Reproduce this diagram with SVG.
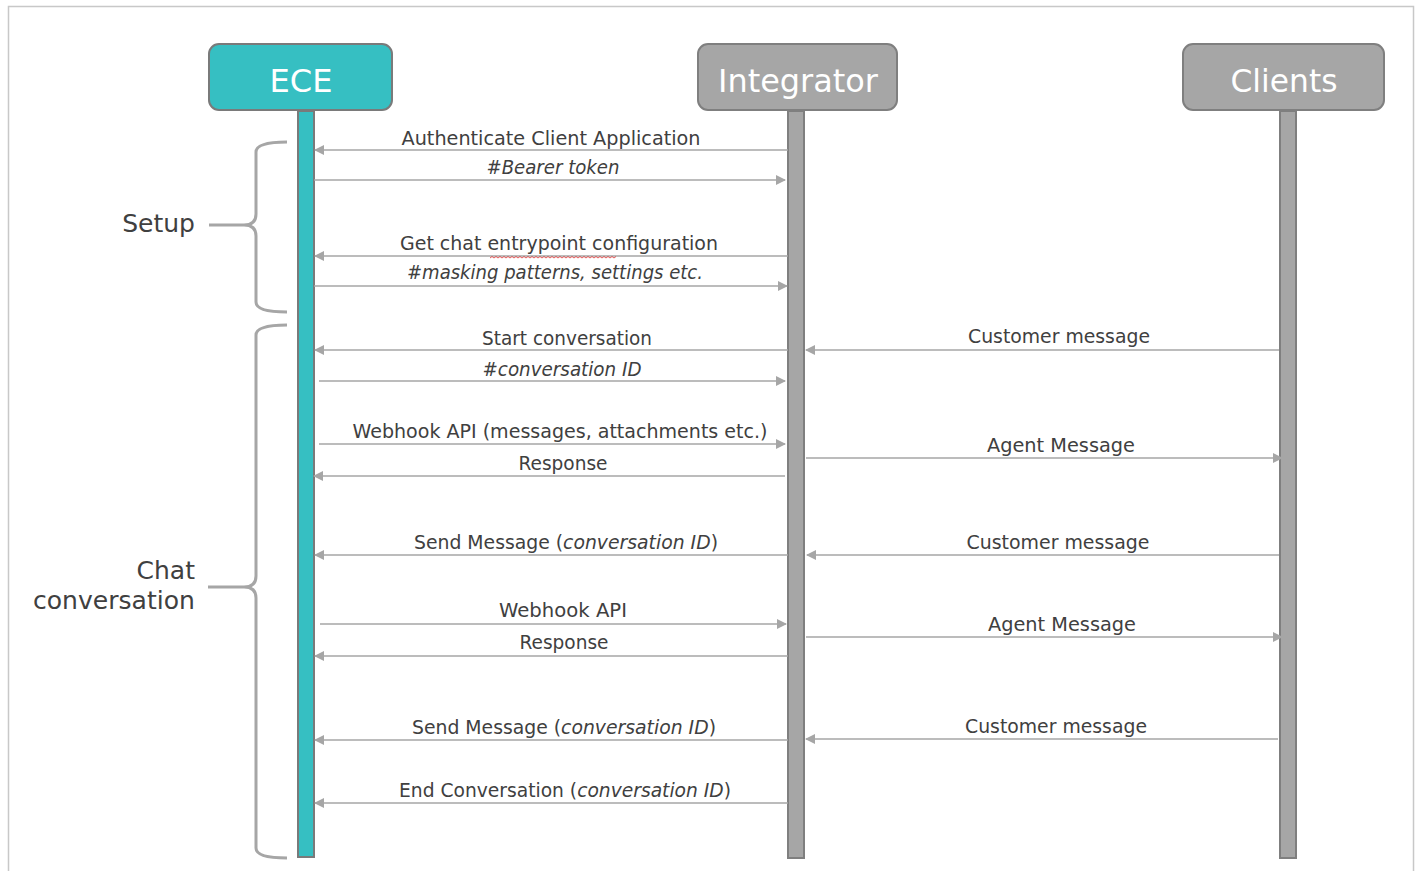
<svg xmlns="http://www.w3.org/2000/svg" width="1423" height="871" viewBox="0 0 1423 871">
<defs>
<marker id="ah" viewBox="0 0 10 10" refX="9" refY="5" markerWidth="10" markerHeight="10" markerUnits="userSpaceOnUse" orient="auto-start-reverse">
<path d="M0,0 L10,5 L0,10 Z" fill="#a6a6a6"/>
</marker>
</defs>
<style>
.hdr{font-family:"DejaVu Sans","Liberation Sans",sans-serif;font-size:32px;fill:#ffffff;text-anchor:middle}
.lbl{font-family:"DejaVu Sans","Liberation Sans",sans-serif;font-size:19px;fill:#404040;text-anchor:middle}
.it{font-style:italic}
.side{font-family:"DejaVu Sans","Liberation Sans",sans-serif;font-size:25px;fill:#404040;text-anchor:end}
.msg{stroke:#a6a6a6;stroke-width:1.5;fill:none}
.brace{stroke:#a6a6a6;stroke-width:3;fill:none}
</style>
<rect x="8.5" y="6.5" width="1405" height="880" fill="#ffffff" stroke="#c8c8c8" stroke-width="1.5"/>

<g id="ece">
<rect x="209" y="44" width="183" height="66" rx="10" fill="#36bfc2" stroke="#7a7a7a" stroke-width="2"/>
<text class="hdr" x="301" y="92" textLength="63" lengthAdjust="spacingAndGlyphs">ECE</text>
<rect x="298" y="111" width="16" height="746" fill="#36bfc2" stroke="#7a7a7a" stroke-width="2"/>
</g>
<g id="integrator">
<rect x="698" y="44" width="199" height="66" rx="10" fill="#a6a6a6" stroke="#7f7f7f" stroke-width="2"/>
<text class="hdr" x="798" y="92" textLength="160" lengthAdjust="spacingAndGlyphs">Integrator</text>
<rect x="788" y="111" width="16" height="747" fill="#a6a6a6" stroke="#7f7f7f" stroke-width="2"/>
</g>
<g id="clients">
<rect x="1183" y="44" width="201" height="66" rx="10" fill="#a6a6a6" stroke="#7f7f7f" stroke-width="2"/>
<text class="hdr" x="1284" y="92" textLength="107" lengthAdjust="spacingAndGlyphs">Clients</text>
<rect x="1280" y="111" width="16" height="747" fill="#a6a6a6" stroke="#7f7f7f" stroke-width="2"/>
</g>

<g id="setup">
<path class="brace" d="M287,142 Q256,142 256,152 L256,214 Q256,225 244,225 L209,225 M244,225 Q256,225 256,236 L256,302 Q256,312 287,312"/>
<text class="side" x="195" y="232">Setup</text>
</g>
<g id="chat">
<path class="brace" d="M287,325 Q256,325 256,335 L256,576 Q256,587 244,587 L208,587 M244,587 Q256,587 256,598 L256,848 Q256,858 287,858"/>
<text class="side" x="195" y="579">Chat</text>
<text class="side" x="195" y="609" textLength="162" lengthAdjust="spacingAndGlyphs">conversation</text>
</g>

<g id="connectors">
<line class="msg" x1="788" y1="150" x2="315" y2="150" marker-end="url(#ah)"/>
<line class="msg" x1="314" y1="180" x2="785" y2="180" marker-end="url(#ah)"/>
<line class="msg" x1="788" y1="256" x2="315" y2="256" marker-end="url(#ah)"/>
<line class="msg" x1="314" y1="286" x2="787" y2="286" marker-end="url(#ah)"/>
<line class="msg" x1="788" y1="350" x2="315" y2="350" marker-end="url(#ah)"/>
<line class="msg" x1="319" y1="381" x2="785" y2="381" marker-end="url(#ah)"/>
<line class="msg" x1="319" y1="444" x2="785" y2="444" marker-end="url(#ah)"/>
<line class="msg" x1="785" y1="476" x2="314" y2="476" marker-end="url(#ah)"/>
<line class="msg" x1="788" y1="555" x2="315" y2="555" marker-end="url(#ah)"/>
<line class="msg" x1="320" y1="624" x2="786" y2="624" marker-end="url(#ah)"/>
<line class="msg" x1="788" y1="656" x2="315" y2="656" marker-end="url(#ah)"/>
<line class="msg" x1="788" y1="740" x2="315" y2="740" marker-end="url(#ah)"/>
<line class="msg" x1="788" y1="803" x2="315" y2="803" marker-end="url(#ah)"/>
<line class="msg" x1="1279" y1="350" x2="806" y2="350" marker-end="url(#ah)"/>
<line class="msg" x1="806" y1="458" x2="1282" y2="458" marker-end="url(#ah)"/>
<line class="msg" x1="1279" y1="555" x2="807" y2="555" marker-end="url(#ah)"/>
<line class="msg" x1="806" y1="637" x2="1282" y2="637" marker-end="url(#ah)"/>
<line class="msg" x1="1278" y1="739" x2="806" y2="739" marker-end="url(#ah)"/>
<path d="M490,258 l2,-1.5 l2,1.5 l2,-1.5 l2,1.5 l2,-1.5 l2,1.5 l2,-1.5 l2,1.5 l2,-1.5 l2,1.5 l2,-1.5 l2,1.5 l2,-1.5 l2,1.5 l2,-1.5 l2,1.5 l2,-1.5 l2,1.5 l2,-1.5 l2,1.5 l2,-1.5 l2,1.5 l2,-1.5 l2,1.5 l2,-1.5 l2,1.5 l2,-1.5 l2,1.5 l2,-1.5 l2,1.5 l2,-1.5 l2,1.5 l2,-1.5 l2,1.5 l2,-1.5 l2,1.5 l2,-1.5 l2,1.5 l2,-1.5 l2,1.5 l2,-1.5 l2,1.5 l2,-1.5 l2,1.5 l2,-1.5 l2,1.5 l2,-1.5 l2,1.5 l2,-1.5 l2,1.5 l2,-1.5 l2,1.5 l2,-1.5 l2,1.5 l2,-1.5 l2,1.5 l2,-1.5 l2,1.5 l2,-1.5 l2,1.5 l2,-1.5 l2,1.5 l2,-1.5" stroke="#e03030" stroke-width="0.8" fill="none"/>
</g>

<g id="labels">
<text class="lbl" x="551" y="145" textLength="299" lengthAdjust="spacingAndGlyphs">Authenticate Client Application</text>
<text class="lbl it" x="553" y="174" textLength="133" lengthAdjust="spacingAndGlyphs">#Bearer token</text>
<text class="lbl" x="559" y="250" textLength="318" lengthAdjust="spacingAndGlyphs">Get chat entrypoint configuration</text>
<text class="lbl it" x="555" y="279" textLength="296" lengthAdjust="spacingAndGlyphs">#masking patterns, settings etc.</text>
<text class="lbl" x="567" y="345" textLength="170" lengthAdjust="spacingAndGlyphs">Start conversation</text>
<text class="lbl it" x="562" y="376" textLength="159" lengthAdjust="spacingAndGlyphs">#conversation ID</text>
<text class="lbl" x="560" y="438" textLength="415" lengthAdjust="spacingAndGlyphs">Webhook API (messages, attachments etc.)</text>
<text class="lbl" x="563" y="470" textLength="89" lengthAdjust="spacingAndGlyphs">Response</text>
<text class="lbl" x="566" y="549" textLength="304" lengthAdjust="spacingAndGlyphs">Send Message (<tspan class="it">conversation ID</tspan>)</text>
<text class="lbl" x="563" y="617" textLength="128" lengthAdjust="spacingAndGlyphs">Webhook API</text>
<text class="lbl" x="564" y="649" textLength="89" lengthAdjust="spacingAndGlyphs">Response</text>
<text class="lbl" x="564" y="734" textLength="304" lengthAdjust="spacingAndGlyphs">Send Message (<tspan class="it">conversation ID</tspan>)</text>
<text class="lbl" x="565" y="797" textLength="332" lengthAdjust="spacingAndGlyphs">End Conversation (<tspan class="it">conversation ID</tspan>)</text>
<text class="lbl" x="1059" y="343" textLength="182" lengthAdjust="spacingAndGlyphs">Customer message</text>
<text class="lbl" x="1061" y="452" textLength="148" lengthAdjust="spacingAndGlyphs">Agent Message</text>
<text class="lbl" x="1058" y="549" textLength="183" lengthAdjust="spacingAndGlyphs">Customer message</text>
<text class="lbl" x="1062" y="631" textLength="148" lengthAdjust="spacingAndGlyphs">Agent Message</text>
<text class="lbl" x="1056" y="733" textLength="182" lengthAdjust="spacingAndGlyphs">Customer message</text>
</g>
</svg>
